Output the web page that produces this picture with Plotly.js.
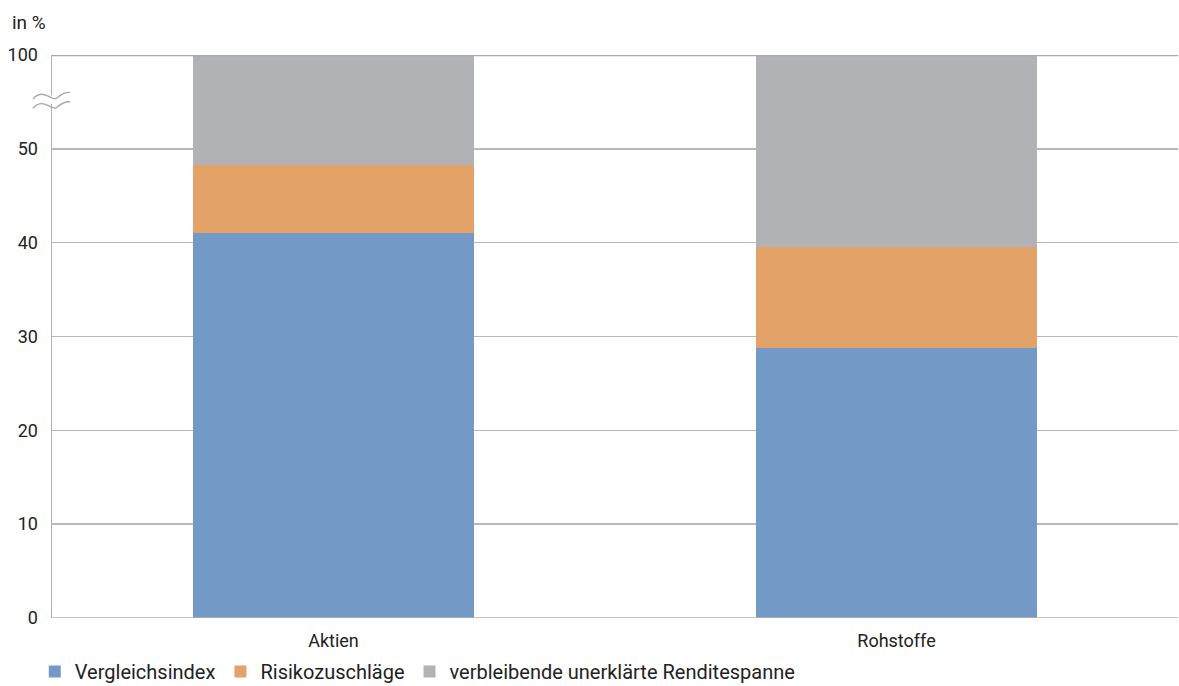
<!DOCTYPE html>
<html>
<head>
<meta charset="utf-8">
<script src="https://cdn.plot.ly/plotly-3.0.1.min.js"></script>
<style>
html,body{margin:0;padding:0;background:#fff;}
#chart{width:1179px;height:686px;}
</style>
</head>
<body>
<div id="chart"></div>
<script>
// Data (real percentage values)
const categories = ['Aktien', 'Rohstoffe'];
const vergleichsindex = [41.0, 28.8];
const risikozuschlaege = [7.3, 10.7];
const verbleibend = [51.7, 60.5];
const tickValues = [0, 10, 20, 30, 40, 50, 100];
const tickLabels = ['0', '10', '20', '30', '40', '50', '100'];
const seriesNames = ['Vergleichsindex', 'Risikozuschläge', 'verbleibende unerklärte Renditespanne'];
const colors = ['#7399c6', '#e3a268', '#b1b2b6'];

// Broken axis: 0..50 linear, 50..100 compressed into 50..60
function disp(v) { return v <= 50 ? v : 50 + (v - 50) * 10 / 50; }

const series = [vergleichsindex, risikozuschlaege, verbleibend];
const cum = categories.map(() => 0);
const traces = series.map((vals, s) => {
  const heights = vals.map((v, i) => {
    const lo = cum[i], hi = cum[i] + v;
    cum[i] = hi;
    return disp(hi) - disp(lo);
  });
  return {
    type: 'bar',
    name: seriesNames[s],
    x: categories,
    y: heights,
    customdata: vals,
    hovertemplate: '%{x}: %{customdata}<extra>' + seriesNames[s] + '</extra>',
    marker: {color: colors[s], line: {width: 0}},
    width: 0.5
  };
});

const font = "Roboto, sans-serif";
const yTop = disp(100);

const layout = {
  width: 1179, height: 686,
  margin: {l: 52, r: 1, t: 55, b: 68},
  paper_bgcolor: '#fff', plot_bgcolor: '#fff',
  barmode: 'stack',
  bargap: 0.5,
  font: {family: font, size: 18, color: '#222'},
  showlegend: true,
  legend: {
    orientation: 'h', x: 0.0295, xref: 'container', xanchor: 'left',
    y: 0.0496, yref: 'container', yanchor: 'top',
    font: {family: font, size: 20, color: '#222'},
    traceorder: 'normal', itemclick: false
  },
  xaxis: {
    type: 'category', showgrid: false, zeroline: false, showline: false,
    ticks: '', ticklabelstandoff: 10,
    tickfont: {family: font, size: 18, color: '#222'},
    range: [-0.5, 1.5], automargin: false
  },
  yaxis: {
    range: [0, yTop],
    tickvals: tickValues.map(disp), ticktext: tickLabels,
    showgrid: true, gridcolor: '#b8b8bb', gridwidth: 1.5,
    zeroline: false, showline: true, linecolor: '#b0b0b4', linewidth: 1.5,
    ticks: '', ticklabelstandoff: 9, automargin: false,
    tickfont: {family: font, size: 18, color: '#222'}
  },
  annotations: [{
    text: 'in %', xref: 'paper', yref: 'paper', x: -0.037, y: 1.0586,
    xanchor: 'left', yanchor: 'middle', showarrow: false,
    font: {family: font, size: 19, color: '#222'}
  }],
  shapes: [
    {type: 'line', xref: 'paper', yref: 'y', x0: 0, x1: 1, y0: 0, y1: 0,
     line: {color: '#b0b0b4', width: 1.5}, layer: 'above'},
    {type: 'line', xref: 'paper', yref: 'y', x0: 0, x1: 1, y0: yTop, y1: yTop,
     line: {color: '#a9a9ad', width: 2.5}, layer: 'above'},
    {type: 'path', xref: 'paper', yref: 'y', layer: 'above',
     path: 'M -0.004 55.7 L 0.004 55.7 L 0.004 54.8 L -0.004 54.8 Z',
     fillcolor: '#fff', line: {width: 0}},
    {type: 'path', xref: 'paper', yref: 'y', layer: 'above',
     path: 'M -0.017 55.3 C -0.008 56.6, 0.000 55.0, 0.004 55.4 S 0.012 56.1, 0.016 56.0',
     line: {color: '#a8a8ac', width: 1.3}},
    {type: 'path', xref: 'paper', yref: 'y', layer: 'above',
     path: 'M -0.017 54.3 C -0.008 55.6, 0.000 54.0, 0.004 54.4 S 0.012 55.1, 0.016 55.0',
     line: {color: '#a8a8ac', width: 1.3}}
  ]
};

Plotly.newPlot('chart', traces, layout, {displayModeBar: false, staticPlot: true});
</script>
</body>
</html>
